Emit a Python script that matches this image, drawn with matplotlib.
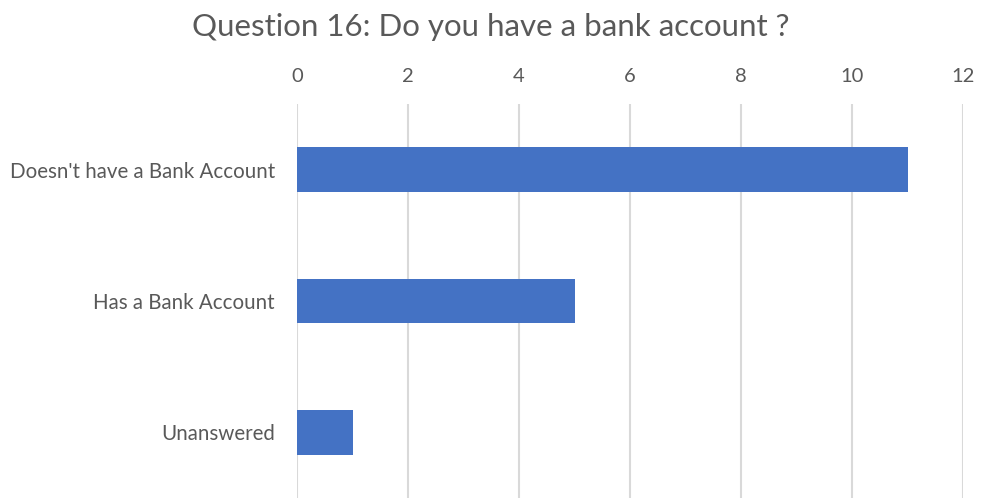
import matplotlib.pyplot as plt

categories = ["Doesn't have a Bank Account", "Has a Bank Account", "Unanswered"]
counts = [11, 5, 1]
x_ticks = [0, 2, 4, 6, 8, 10, 12]

plt.rcParams['font.family'] = ['Lato', 'DejaVu Sans']

fig = plt.figure(figsize=(9.81, 4.98), dpi=100)
ax = fig.add_axes([297 / 981, 0.0, (963 - 297) / 981, 1 - 104 / 498])

pos = list(range(len(categories)))
ax.barh(pos, counts, height=0.34, color='#4472C4', zorder=3)

ax.set_ylim(len(categories) - 0.5, -0.5)
ax.set_yticks(pos)
ax.set_yticklabels(categories, fontsize=14.8, color='#595959')
ax.set_xlim(0, 12)
ax.set_xticks(x_ticks)
ax.set_xticklabels([str(t) for t in x_ticks], fontsize=14.5, color='#595959')
ax.xaxis.tick_top()
ax.tick_params(axis='both', length=0)
ax.tick_params(axis='x', pad=14)
ax.tick_params(axis='y', pad=16)

ax.grid(axis='x', color='#d9d9d9', linewidth=1.5, zorder=0)
for s in ax.spines.values():
    s.set_visible(False)

fig.text(0.5, 1 - 27 / 498, "Question 16: Do you have a bank account ?",
         ha='center', va='center', fontsize=22.5, color='#595959')

fig.savefig('out.png', dpi=100)
